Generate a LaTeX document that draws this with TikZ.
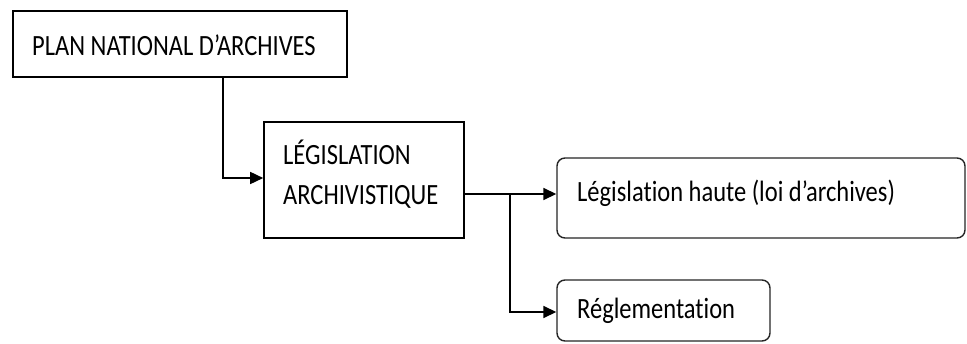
\documentclass[tikz,border=0pt]{standalone}
\usepackage{fontspec}
\setmainfont{Carlito}[Ligatures=NoCommon]
\usetikzlibrary{arrows.meta}
\newcommand{\tall}[1]{\scalebox{1}[1.2]{#1}}
\begin{document}
\begin{tikzpicture}[x=1pt,y=-1pt,
  sq/.style={draw=black,line width=1.6pt,inner sep=0pt,rectangle},
  rd/.style={draw=black!85,line width=1.4pt,inner sep=0pt,rectangle,rounded corners=8pt},
  lbl/.style={anchor=base west,inner sep=0pt,font=\fontsize{24.5}{28}\selectfont,text=black},
  arr/.style={draw=black,line width=1.6pt,-{Triangle[length=13pt,width=12pt]}}]
\useasboundingbox (0,0) rectangle (967,343);
\fill[white] (0,0) rectangle (967,343);
\node[sq,minimum width=334pt,minimum height=66pt] (b1) at (180,44) {};
\node[sq,minimum width=200pt,minimum height=116pt] (b2) at (364,180) {};
\node[rd,minimum width=408pt,minimum height=80pt] (b3) at (761,198) {};
\node[rd,minimum width=213pt,minimum height=61pt] (b4) at (663.5,310.5) {};
\node[lbl] (t1) at (32,55) {\tall{PLAN NATIONAL D’ARCHIVES}};
\node[lbl] (t2) at (283,164) {\tall{LÉGISLATION}};
\node[lbl] (t2b) at (283,204) {\tall{ARCHIVISTIQUE}};
\node[lbl] (t3) at (577,201) {\tall{Législation haute (loi d’archives)}};
\node[lbl] (t4) at (577,318) {\tall{Réglementation}};
\coordinate (j) at (510,194);
\draw[arr] ([xshift=43pt]b1.south) |- ([yshift=2pt]b2.west);
\draw[arr] ([yshift=-14pt]b2.east) -- ([yshift=-14pt]b2.east -| b3.west);
\draw[arr] (j) |- ([yshift=-1.5pt]b4.west);
\end{tikzpicture}
\end{document}
